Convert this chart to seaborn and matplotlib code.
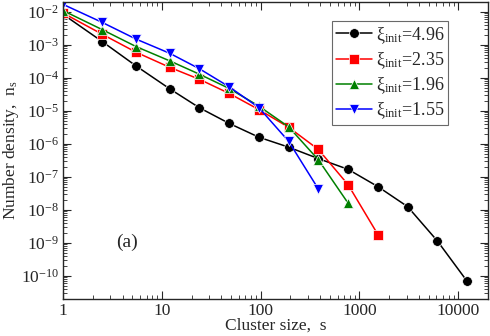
import numpy as np
import pandas as pd
import seaborn as sns
import matplotlib
matplotlib.use("Agg")
import matplotlib.pyplot as plt
from matplotlib.ticker import LogLocator, NullFormatter

# cluster size bins
sizes = [1, 2.5, 5.5, 12, 24, 48, 96, 192, 384, 768, 1536, 3072, 6144, 12288]

# number density per initial correlation length
n_496 = [8.5e-3, 1.26e-3, 2.3e-4, 4.7e-5, 1.25e-5, 4.2e-6, 1.6e-6, 8e-7, 3.6e-7,
         1.7e-7, 5.1e-8, 1.26e-8, 1.15e-9, 6.9e-11]
n_235 = [9.3e-3, 2.1e-3, 6e-4, 2.1e-4, 9.1e-5, 3.4e-5, 1.1e-5, 3.2e-6, 6.8e-7,
         5.8e-8, 1.8e-9]
n_196 = [1.1e-2, 2.9e-3, 8.9e-4, 3.3e-4, 1.3e-4, 4.8e-5, 1.4e-5, 3.3e-6, 3.3e-7,
         1.6e-8]
n_155 = [1.7e-2, 4.8e-3, 1.5e-3, 5.6e-4, 1.9e-4, 5.4e-5, 1.26e-5, 1.2e-6, 4.3e-8]

labels = [r'ξ$_{\rm init}$=4.96', r'ξ$_{\rm init}$=2.35',
          r'ξ$_{\rm init}$=1.96', r'ξ$_{\rm init}$=1.55']
series = [n_496, n_235, n_196, n_155]
colors = ['black', 'red', 'green', 'blue']
markers = ['o', 's', '^', 'v']

x_ticks = [1, 10, 100, 1000, 10000]
x_ticklabels = ['1', '10', '100', '1000', '10000']
y_ticks = [10.0 ** k for k in range(-10, -1)]

rows = []
for lab, vals in zip(labels, series):
    for s, n in zip(sizes, vals):
        rows.append({'s': s, 'n': n, 'label': lab})
df = pd.DataFrame(rows)

sns.set_style('ticks')
plt.rcParams['font.family'] = ['Liberation Serif', 'DejaVu Serif']
plt.rcParams['mathtext.fontset'] = 'custom'
plt.rcParams['mathtext.rm'] = 'Liberation Serif'
plt.rcParams['mathtext.it'] = 'Liberation Serif:italic'

fig = plt.figure(figsize=(4.9, 3.36), dpi=100)
ax = fig.add_axes([0.1286, 0.110, 0.8674, 0.884])

sns.lineplot(data=df, x='s', y='n', hue='label', style='label',
             palette=colors, markers=markers, dashes=False, ax=ax,
             linewidth=1.1, markersize=7, markeredgewidth=0.5, sort=False)

ax.set_xscale('log')
ax.set_yscale('log')
ax.set_xlim(1, 2e4)
ax.set_ylim(2e-11, 2e-2)

ax.set_xticks(x_ticks)
ax.set_xticklabels(x_ticklabels)
ax.set_yticks(y_ticks)
ax.xaxis.set_minor_locator(LogLocator(base=10, subs=np.arange(2, 10)))
ax.yaxis.set_minor_locator(LogLocator(base=10, subs=np.arange(2, 10), numticks=20))
ax.xaxis.set_minor_formatter(NullFormatter())
ax.yaxis.set_minor_formatter(NullFormatter())
ax.tick_params(which='both', direction='in', top=True, right=True)
ax.tick_params(which='major', length=6, labelsize=12.5, pad=3)
ax.tick_params(which='minor', length=3)
for sp in ax.spines.values():
    sp.set_linewidth(1.0)

ax.set_xlabel('Cluster size,  s', fontsize=12.5, labelpad=-1)
ax.set_ylabel(r'Number density,  n$_{\rm s}$', fontsize=12.5, labelpad=0)

ax.text(0.15, 0.19, '(a)', transform=ax.transAxes, fontsize=14,
        ha='center', va='center')

leg = ax.legend(loc='upper right', bbox_to_anchor=(0.905, 0.935), fontsize=13,
                frameon=True, fancybox=False, edgecolor='#444444',
                handlelength=2.0, handletextpad=0.2, borderpad=0.2,
                labelspacing=0.25, borderaxespad=0)
leg.get_frame().set_linewidth(0.8)

fig.savefig('out.png', dpi=100)
